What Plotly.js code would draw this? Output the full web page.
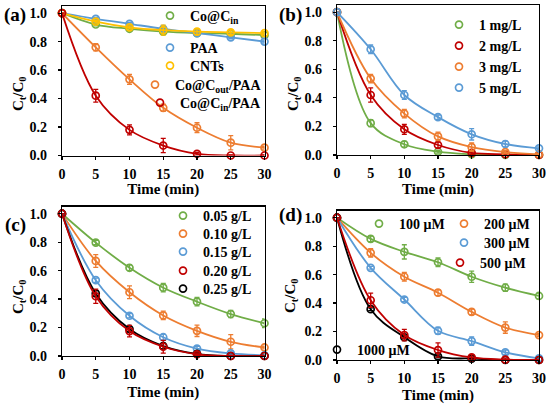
<!DOCTYPE html>
<html>
<head>
<meta charset="utf-8">
<script src="https://cdn.plot.ly/plotly-3.0.1.min.js"></script>
<style>html,body{margin:0;padding:0;background:#fff;}#chart{width:550px;height:404px;}</style>
</head>
<body>
<div id="chart"></div>
<script>
// ---------------- data ----------------
const time = [0, 5, 10, 15, 20, 25, 30];

// (a) different systems
const a_CoCin      = [1, 0.92, 0.89, 0.87, 0.86, 0.855, 0.845];
const a_PAA        = [1, 0.96, 0.925, 0.89, 0.86, 0.83, 0.80];
const a_CNTs       = [1, 0.94, 0.90, 0.88, 0.87, 0.865, 0.86];
const a_CoCoutPAA  = [1, 0.76, 0.535, 0.335, 0.195, 0.09, 0.055];
const a_CoCinPAA   = [1, 0.42, 0.18, 0.07, 0.012, 0.0, 0.0];
const a_CoCin_err     = [0, 0.01, 0.015, 0.015, 0.01, 0.01, 0.01];
const a_PAA_err       = [0, 0.01, 0.01, 0.015, 0.01, 0.01, 0.01];
const a_CNTs_err      = [0, 0.01, 0.01, 0.035, 0.02, 0.015, 0.01];
const a_CoCoutPAA_err = [0, 0.025, 0.035, 0.025, 0.035, 0.05, 0.01];
const a_CoCinPAA_err  = [0, 0.045, 0.035, 0.05, 0.01, 0.005, 0.005];

// (b) catalyst dosage mg/L
const b_1 = [1, 0.223, 0.075, 0.023, 0.005, 0, 0];
const b_2 = [1, 0.42, 0.18, 0.07, 0.015, 0.005, 0];
const b_3 = [1, 0.535, 0.29, 0.13, 0.055, 0.02, 0.005];
const b_5 = [1, 0.74, 0.42, 0.265, 0.145, 0.077, 0.047];
const b_1_err = [0, 0.025, 0.02, 0.01, 0.005, 0.005, 0.005];
const b_2_err = [0, 0.05, 0.035, 0.02, 0.01, 0.005, 0.005];
const b_3_err = [0, 0.03, 0.03, 0.03, 0.03, 0.01, 0.005];
const b_5_err = [0, 0.03, 0.03, 0.015, 0.04, 0.02, 0.01];

// (c) g/L
const c_005 = [1, 0.797, 0.62, 0.48, 0.382, 0.295, 0.23];
const c_010 = [1, 0.668, 0.448, 0.285, 0.177, 0.10, 0.06];
const c_015 = [1, 0.533, 0.283, 0.132, 0.052, 0.018, 0.005];
const c_020 = [1, 0.42, 0.175, 0.065, 0.012, 0.0, 0.0];
const c_025 = [1, 0.44, 0.19, 0.07, 0.015, 0.0, 0.0];
const c_005_err = [0, 0.015, 0.02, 0.03, 0.03, 0.025, 0.03];
const c_010_err = [0, 0.045, 0.045, 0.03, 0.04, 0.05, 0.01];
const c_015_err = [0, 0.015, 0.015, 0.02, 0.015, 0.01, 0.005];
const c_020_err = [0, 0.05, 0.04, 0.045, 0.01, 0.005, 0.005];
const c_025_err = [0, 0.02, 0.02, 0.02, 0.01, 0.005, 0.005];

// (d) µM
const d_100  = [1, 0.851, 0.76, 0.687, 0.585, 0.508, 0.45];
const d_200  = [1, 0.753, 0.585, 0.473, 0.338, 0.228, 0.175];
const d_300  = [1, 0.648, 0.425, 0.205, 0.133, 0.054, 0.012];
const d_500  = [1, 0.42, 0.175, 0.07, 0.018, 0.003, 0];
const d_1000 = [1, 0.357, 0.16, 0.025, 0.01, 0.0, 0.0];
const d_100_err  = [0, 0.02, 0.05, 0.03, 0.04, 0.025, 0.02];
const d_200_err  = [0, 0.03, 0.03, 0.02, 0.02, 0.04, 0.01];
const d_300_err  = [0, 0.01, 0.015, 0.025, 0.03, 0.015, 0.01];
const d_500_err  = [0, 0.05, 0.04, 0.05, 0.02, 0.01, 0.005];
const d_1000_err = [0, 0.01, 0.01, 0.01, 0.01, 0.005, 0.005];

const xTicks = [0, 5, 10, 15, 20, 25, 30];
const yTicks = [0, 0.2, 0.4, 0.6, 0.8, 1.0];

// ---------------- styling ----------------
const W = 550, H = 404;
const FONT = '"Liberation Serif", "Times New Roman", serif';
const C = {green:'#70AD47', blue:'#5B9BD5', yellow:'#FFC000', orange:'#ED7D31', red:'#C00000', black:'#000000'};
const LEG_DX = 28; // px from legend left to reference symbol centre (keeps text where the reference has it)

// [subplot, name, y, err, colour, legend symbol px position]
const series = [
  [1, 'Co@C<sub>in</sub>',       a_CoCin,     a_CoCin_err,     C.green,  [178, 16]],
  [1, 'PAA',                     a_PAA,       a_PAA_err,       C.blue,   [178, 48]],
  [1, 'CNTs',                    a_CNTs,      a_CNTs_err,      C.yellow, [178, 66]],
  [1, 'Co@C<sub>out</sub>/PAA',  a_CoCoutPAA, a_CoCoutPAA_err, C.orange, [163, 85]],
  [1, 'Co@C<sub>in</sub>/PAA',   a_CoCinPAA,  a_CoCinPAA_err,  C.red,    [168, 103]],
  [2, '1 mg/L', b_1, b_1_err, C.green,  [467, 25]],
  [2, '2 mg/L', b_2, b_2_err, C.red,    [467, 46]],
  [2, '3 mg/L', b_3, b_3_err, C.orange, [467, 67]],
  [2, '5 mg/L', b_5, b_5_err, C.blue,   [467, 88]],
  [3, '0.05 g/L', c_005, c_005_err, C.green,  [191, 216]],
  [3, '0.10 g/L', c_010, c_010_err, C.orange, [191, 234]],
  [3, '0.15 g/L', c_015, c_015_err, C.blue,   [191, 252]],
  [3, '0.25 g/L', c_025, c_025_err, C.black,  [191, 289]],
  [3, '0.20 g/L', c_020, c_020_err, C.red,    [191, 271]],
  [4, '100 μM',  d_100,  d_100_err,  C.green,  [387, 224]],
  [4, '200 μM',  d_200,  d_200_err,  C.orange, [472, 224]],
  [4, '300 μM',  d_300,  d_300_err,  C.blue,   [472, 243]],
  [4, '1000 μM', d_1000, d_1000_err, C.black,  [345, 350]],
  [4, '500 μM',  d_500,  d_500_err,  C.red,    [468, 263]],
];

const traces = [];
const layout = {
  width: W, height: H,
  margin: {l:0, r:0, t:0, b:0},
  paper_bgcolor: '#fff', plot_bgcolor: '#fff',
  font: {family: FONT, color: '#000', size: 14},
  showlegend: true,
  annotations: [],
};

series.forEach((s, i) => {
  const [sp, name, y, err, col, pos] = s;
  const xa = sp === 1 ? 'x' : 'x' + sp;
  const ya = sp === 1 ? 'y' : 'y' + sp;
  const legId = i === 0 ? 'legend' : 'legend' + (i + 1);
  // fitted curve
  traces.push({
    x: time, y: y, xaxis: xa, yaxis: ya, type: 'scatter', mode: 'lines',
    line: {color: col, width: 1.8, shape: 'spline', smoothing: 1.0},
    showlegend: false, hoverinfo: 'skip'
  });
  // data points with error bars
  traces.push({
    x: time, y: y, xaxis: xa, yaxis: ya, type: 'scatter', mode: 'markers',
    name: name, legend: legId, cliponaxis: false,
    marker: {symbol: 'circle-open', size: 7, color: col, line: {width: 1.7, color: col}},
    error_y: {type: 'data', array: err, visible: true, color: col, thickness: 1.3, width: 2.5}
  });
  layout[legId] = {
    x: (pos[0] - LEG_DX) / W, y: 1 - pos[1] / H, xanchor: 'left', yanchor: 'middle',
    bgcolor: 'rgba(0,0,0,0)', borderwidth: 0, itemwidth: 30, tracegroupgap: 0,
    font: {family: FONT, size: 14, color: '#000', weight: 'bold'}
  };
});

// axes geometry (px)
const geo = {
  1: {x0: 62,  x1: 264.5, yTop: 6,     yBot: 155.5, standoff: 2},
  2: {x0: 337, x1: 539,   yTop: 5,     yBot: 155,   standoff: 2},
  3: {x0: 62,  x1: 264.5, yTop: 206.6, yBot: 356,   standoff: 5},
  4: {x0: 337, x1: 539,   yTop: 210.6, yBot: 360,   standoff: 5},
};
const tickFont = {family: FONT, size: 14, color: '#000', weight: 'bold'};
[1, 2, 3, 4].forEach(k => {
  const g = geo[k];
  const xk = k === 1 ? 'xaxis' : 'xaxis' + k;
  const yk = k === 1 ? 'yaxis' : 'yaxis' + k;
  layout[xk] = {
    domain: [g.x0 / W, g.x1 / W], anchor: k === 1 ? 'y' : 'y' + k,
    range: [0, 30], tickvals: xTicks, ticktext: xTicks.map(String),
    showgrid: false, zeroline: false, showline: true, mirror: true,
    linecolor: '#000', linewidth: 1.2, ticks: 'outside', ticklen: 3, tickwidth: 1.2, tickcolor: '#000',
    tickfont: tickFont, ticklabelstandoff: 2,
    title: {text: 'Time (min)', font: {family: FONT, size: 15, color: '#000', weight: 'bold'}, standoff: g.standoff}
  };
  layout[yk] = {
    domain: [1 - g.yBot / H, 1 - g.yTop / H], anchor: k === 1 ? 'x' : 'x' + k,
    range: [0, 1.05], tickvals: yTicks, ticktext: yTicks.map(v => v.toFixed(1)),
    showgrid: false, zeroline: false, showline: true, mirror: true,
    linecolor: '#000', linewidth: 1.2, ticks: 'outside', ticklen: 3, tickwidth: 1.2, tickcolor: '#000',
    tickfont: tickFont, ticklabelstandoff: 8
  };
});

// panel labels and y titles
const panelLabels = [['(a)', 15, 15], ['(b)', 290, 15], ['(c)', 15, 225], ['(d)', 290, 215]];
panelLabels.forEach(p => layout.annotations.push({
  text: p[0], xref: 'paper', yref: 'paper', x: p[1] / W, y: 1 - p[2] / H,
  xanchor: 'center', yanchor: 'middle', showarrow: false,
  font: {family: FONT, size: 19, color: '#000', weight: 'bold'}
}));
const yTitles = [[19, 94], [294, 94], [19, 297], [291, 296]];
yTitles.forEach(p => layout.annotations.push({
  text: 'C<sub>t</sub>/C<sub>0</sub>', xref: 'paper', yref: 'paper', x: p[0] / W, y: 1 - p[1] / H,
  xanchor: 'center', yanchor: 'middle', showarrow: false, textangle: -90,
  font: {family: FONT, size: 15, color: '#000', weight: 'bold'}
}));

Plotly.newPlot('chart', traces, layout, {displayModeBar: false, staticPlot: true});
</script>
</body>
</html>
